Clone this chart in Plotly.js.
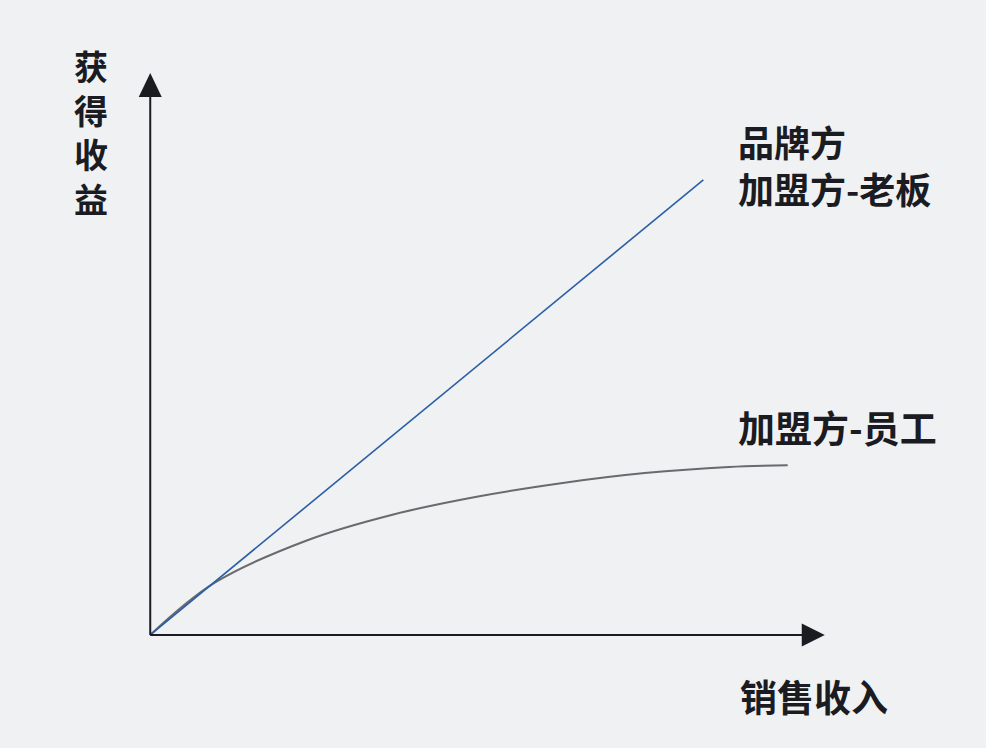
<!DOCTYPE html>
<html>
<head>
<meta charset="utf-8">
<script src="https://cdn.plot.ly/plotly-3.0.1.min.js"></script>
<style>
  html, body { margin: 0; padding: 0; background: #f0f1f3; }
  #chart { width: 986px; height: 748px; }
</style>
</head>
<body>
<div id="chart"></div>
<script>
// 品牌方 / 加盟方-老板: straight line
const bossX = [0, 82];
const bossY = [0, 81];
// 加盟方-员工: flattening curve
const staffX = [0, 9.5, 23.4, 35.9, 48.4, 60.9, 73.3, 85.8, 94.5];
const staffY = [0, 9.25, 16.9, 21.4, 24.6, 27.0, 28.8, 29.9, 30.2];

const yTitle = ['获', '得', '收', '益'];
const xTitle = '销售收入';
const bossLabel = ['品牌方', '加盟方-老板'];
const staffLabel = '加盟方-员工';

const cjk = '"Noto Sans CJK SC", "Noto Sans", sans-serif';
const ink = '#1b1b22';

const M = {l: 129.75, r: 140.75, t: 44.9, b: 84.9};
// page pixel -> paper fraction
const px = x => (x - M.l) / (986 - M.l - M.r);
const py = y => (748 - M.b - y) / (748 - M.t - M.b);

var data = [
  {
    x: staffX, y: staffY,
    type: 'scatter', mode: 'lines',
    line: {color: '#6a6a6e', width: 2, shape: 'spline', smoothing: 1},
    hoverinfo: 'skip'
  },
  {
    x: bossX, y: bossY,
    type: 'scatter', mode: 'lines',
    line: {color: '#2a5ea6', width: 1.6},
    hoverinfo: 'skip'
  }
];

function label(text, x, y, size, anchor) {
  return {
    text: '<b>' + text + '</b>', xref: 'paper', yref: 'paper',
    x: px(x), y: py(y), xanchor: anchor || 'left', yanchor: 'middle',
    align: anchor === 'center' ? 'center' : 'left',
    showarrow: false,
    font: {family: cjk, size: size, color: ink}
  };
}

var annotations = [
  label(bossLabel.join('<br>'), 736, 164, 36),
  label(staffLabel, 736, 427, 37),
  label(xTitle, 738, 696, 37),
  label(yTitle.join('<br>'), 91, 132, 34, 'center')
];

var shapes = [
  // axes
  {type: 'line', x0: 0, y0: 0, x1: 97, y1: 0, line: {color: ink, width: 2}},
  {type: 'line', x0: 0, y0: 0, x1: 0, y1: 96, line: {color: ink, width: 2}},
  // arrowheads
  {type: 'path', xsizemode: 'pixel', ysizemode: 'pixel', xanchor: 100, yanchor: 0,
   path: 'M0,0 L-23,11.5 L-23,-11.5 Z', fillcolor: ink, line: {width: 0}},
  {type: 'path', xsizemode: 'pixel', ysizemode: 'pixel', xanchor: 0, yanchor: 100,
   path: 'M0,0 L-11.5,-24 L11.5,-24 Z', fillcolor: ink, line: {width: 0}}
];

var layout = {
  width: 986, height: 748,
  paper_bgcolor: '#f0f1f3',
  plot_bgcolor: '#f0f1f3',
  margin: M,
  showlegend: false,
  xaxis: {range: [-3, 103], visible: false, fixedrange: true},
  yaxis: {range: [-5, 105], visible: false, fixedrange: true},
  shapes: shapes,
  annotations: annotations
};

Plotly.newPlot('chart', data, layout, {displayModeBar: false, staticPlot: true});
</script>
</body>
</html>
